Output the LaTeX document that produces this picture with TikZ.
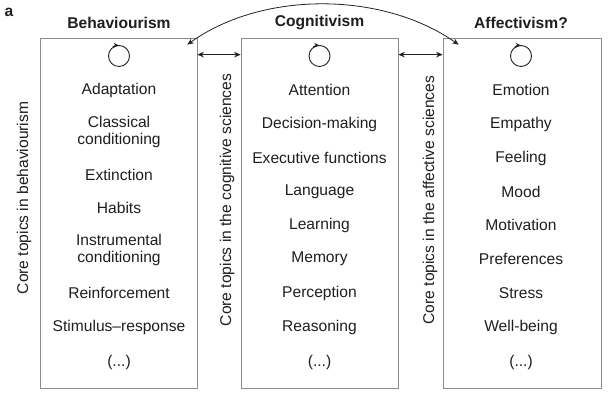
\documentclass[tikz,border=0pt]{standalone}
\usepackage{fontspec}
\setmainfont{Liberation Sans}
\usetikzlibrary{arrows.meta}
\definecolor{boxgray}{HTML}{8C8C8C}
\definecolor{txt}{HTML}{1E1E1E}
\definecolor{arrc}{HTML}{222222}
\begin{document}
\begin{tikzpicture}[x=1pt,y=1pt,
  box/.style={draw=boxgray, line width=0.7pt, minimum width=157pt, minimum height=350pt, inner sep=0pt},
  item/.style={font=\fontsize{15.6}{17}\selectfont, text=txt, align=center, inner sep=0pt},
  title/.style={font=\fontsize{15.6}{17}\selectfont\bfseries, text=txt, inner sep=0pt},
  side/.style={font=\fontsize{15.6}{17}\selectfont, text=txt, rotate=90, inner sep=0pt},
  tip/.style={Stealth[length=6.5pt,width=5.5pt]},
  arr/.style={{Stealth[length=6.5pt,width=5.5pt]}-{Stealth[length=6.5pt,width=5.5pt]}, line width=0.8pt, draw=arrc},
  cyc/.style={circle, draw=arrc, line width=0.9pt, minimum size=21pt, inner sep=0pt},
  cyctip/.style={draw=arrc, line width=0.9pt, -{Stealth[length=4.5pt,width=4.5pt]}}]
\useasboundingbox (0,0) rectangle (610,398);

\node[title] (lbl) at (9,386) {a};

% boxes
\node[box] (b1) at (118.5,185) {};
\node[box] (b2) at (319.5,185) {};
\node[box, minimum width=158pt] (b3) at (522,185) {};

% titles
\node[title] (t1) at (119,375) {Behaviourism};
\node[title] (t2) at (319.5,375) {Cognitivism};
\node[title] (t3) at (521,375) {Affectivism?};

% cycle symbols
\foreach \n/\x in {c1/119, c2/319.5, c3/521}{
  \node[cyc] (\n) at (\x,342) {};
  \draw[cyctip] (\n.125) arc[start angle=125, end angle=92, radius=10.5pt];
}

% side labels
\node[side] (s1) at (24,200) {Core topics in behaviourism};
\node[side] (s2) at (227,198) {Core topics in the cognitive sciences};
\node[side] (s3) at (430,198) {Core topics in the affective sciences};

% double arrows between boxes
\draw[arr] ([yshift=-17pt]b1.north east) -- ([yshift=-17pt]b2.north west);
\draw[arr] ([yshift=-17pt]b2.north east) -- ([yshift=-17pt]b3.north west);

% curved arrow
\coordinate (ca) at ([shift={(-10pt,-7pt)}]b1.north east);
\coordinate (cb) at ([shift={(16pt,-7pt)}]b3.north west);
\draw[arr] (ca) .. controls (262,407) and (382,407) .. (cb);

% behaviourism items
\node[item] (a1) at (119,308) {Adaptation};
\node[item] (a2) at (119,266.5) {Classical\\conditioning};
\node[item] (a3) at (119,223) {Extinction};
\node[item] (a4) at (119,190) {Habits};
\node[item] (a5) at (119,148) {Instrumental\\conditioning};
\node[item] (a6) at (119,105) {Reinforcement};
\node[item] (a7) at (119,71) {Stimulus--response};
\node[item] (a8) at (119,36) {(...)};

% cognitivism items
\node[item] (g1) at (319.5,308) {Attention};
\node[item] (g2) at (319.5,274) {Decision-making};
\node[item] (g3) at (319.5,240) {Executive functions};
\node[item] (g4) at (319.5,206) {Language};
\node[item] (g5) at (319.5,173) {Learning};
\node[item] (g6) at (319.5,139) {Memory};
\node[item] (g7) at (319.5,105) {Perception};
\node[item] (g8) at (319.5,71) {Reasoning};
\node[item] (g9) at (319.5,36) {(...)};

% affectivism items
\node[item] (f1) at (521,308) {Emotion};
\node[item] (f2) at (521,274) {Empathy};
\node[item] (f3) at (521,240) {Feeling};
\node[item] (f4) at (521,206) {Mood};
\node[item] (f5) at (521,173) {Motivation};
\node[item] (f6) at (521,139) {Preferences};
\node[item] (f7) at (521,105) {Stress};
\node[item] (f8) at (521,71) {Well-being};
\node[item] (f9) at (521,36) {(...)};
\end{tikzpicture}
\end{document}
